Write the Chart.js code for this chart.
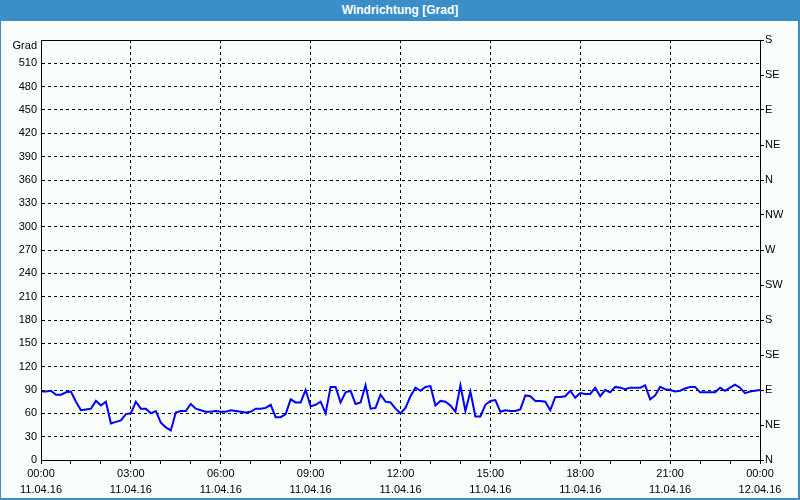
<!DOCTYPE html>
<html>
<head>
<meta charset="utf-8">
<script src="https://cdn.jsdelivr.net/npm/chart.js@4"></script>
<style>
  html, body { margin: 0; padding: 0; }
  #frame { position: relative; width: 800px; height: 500px; background: #3A8FC8; overflow: hidden; }
  #title { position: absolute; left: 0; top: 3px; width: 800px; height: 18px; line-height: 18px; text-align: center;
           color: #fff; font: bold 12px "Liberation Sans", Arial, sans-serif; }
  #plot { position: absolute; left: 1px; top: 21px; width: 797px; height: 477px; background: #FAFEFA; }
</style>
</head>
<body>
<div id="frame">
  <div id="title">Windrichtung [Grad]</div>
  <div id="plot"><canvas id="windChart" width="797" height="477"></canvas></div>
</div>
<script>
// minutes since 00:00 on 11.04.16, one reading every 10 minutes
const minutes = Array.from({ length: 145 }, (_, i) => i * 10);
const directions = [
  88, 88, 89, 84, 84, 87, 88, 75, 64, 65, 66, 76, 70, 75, 47, 49, 51, 59, 60, 75,
  66, 66, 60, 63, 48, 42, 38, 61, 63, 63, 72, 66, 64, 62, 62, 63, 62, 62, 64, 63,
  62, 61, 62, 66, 66, 67, 71, 55, 55, 59, 78, 74, 74, 90, 69, 71, 75, 60, 94, 94,
  74, 87, 89, 72, 74, 96, 66, 67, 84, 75, 74, 66, 60, 67, 82, 93, 89, 94, 95, 70,
  76, 75, 70, 62, 96, 63, 88, 56, 56, 71, 76, 77, 62, 64, 63, 63, 65, 83, 82, 76,
  76, 75, 64, 81, 81, 82, 89, 80, 86, 85, 85, 93, 82, 90, 87, 94, 93, 91, 93, 93,
  93, 96, 78, 83, 94, 91, 90, 88, 89, 92, 94, 94, 87, 87, 87, 87, 93, 89, 93, 97,
  93, 86, 88, 89, 90
];
const timeLabels = ['00:00', '03:00', '06:00', '09:00', '12:00', '15:00', '18:00', '21:00', '00:00'];
const dateLabels = ['11.04.16', '11.04.16', '11.04.16', '11.04.16', '11.04.16', '11.04.16', '11.04.16', '11.04.16', '12.04.16'];
const compassLabels = ['N', 'NE', 'E', 'SE', 'S', 'SW', 'W', 'NW', 'N', 'NE', 'E', 'SE', 'S'];

const tickFont = { family: '"Liberation Sans", Arial, sans-serif', size: 11, lineHeight: 1.45 };

// solid black frame round the plot area
const frameBox = {
  id: 'frameBox',
  afterDraw(chart) {
    const a = chart.chartArea, ctx = chart.ctx;
    ctx.save();
    ctx.strokeStyle = '#000';
    ctx.lineWidth = 1;
    ctx.setLineDash([]);
    ctx.strokeRect(Math.round(a.left) + 0.5, Math.round(a.top) + 0.5,
                   Math.round(a.right - a.left), Math.round(a.bottom - a.top));
    ctx.restore();
  }
};

new Chart(document.getElementById('windChart'), {
  type: 'line',
  data: {
    datasets: [{
      data: minutes.map((m, i) => ({ x: m, y: directions[i] })),
      borderColor: '#0000FF',
      borderWidth: 2,
      pointRadius: 0,
      tension: 0,
      fill: false
    }]
  },
  options: {
    responsive: false,
    animation: false,
    layout: { padding: { top: 19, left: 0, right: 0, bottom: 0 } },
    plugins: { legend: { display: false }, tooltip: { enabled: false } },
    scales: {
      x: {
        type: 'linear', min: 0, max: 1440,
        afterFit: s => { s.height = 38; },
        border: { display: true, color: '#000', dash: [3, 3] },
        grid: {
          color: c => (c.tick && c.tick.value % 180 === 0) ? '#000' : 'rgba(0,0,0,0)',
          tickColor: '#000',
          tickLength: 4,
          tickBorderDash: []
        },
        ticks: {
          stepSize: 60, autoSkip: false, maxRotation: 0, padding: 2,
          color: '#000', font: tickFont,
          callback: v => v % 180 === 0 ? [timeLabels[v / 180], dateLabels[v / 180]] : ''
        }
      },
      y: {
        min: 0, max: 540,
        afterFit: s => { s.width = 40; },
        border: { display: true, color: '#000', dash: [3, 3] },
        grid: { color: '#000', drawTicks: false },
        ticks: {
          stepSize: 30, autoSkip: false, padding: 4, color: '#000',
          font: { family: tickFont.family, size: 11, lineHeight: 1.1 },
          // unit name sits a little below the top tick
          callback: v => v === 540 ? ['', 'Grad'] : v
        }
      },
      y2: {
        position: 'right', min: 0, max: 540,
        afterFit: s => { s.width = 38; },
        border: { display: true, color: '#000' },
        grid: { drawOnChartArea: false, tickColor: '#000', tickLength: 4 },
        ticks: {
          stepSize: 45, autoSkip: false, padding: 1, color: '#000', font: { family: tickFont.family, size: 11 },
          callback: v => compassLabels[v / 45]
        }
      }
    }
  },
  plugins: [frameBox]
});
</script>
</body>
</html>
